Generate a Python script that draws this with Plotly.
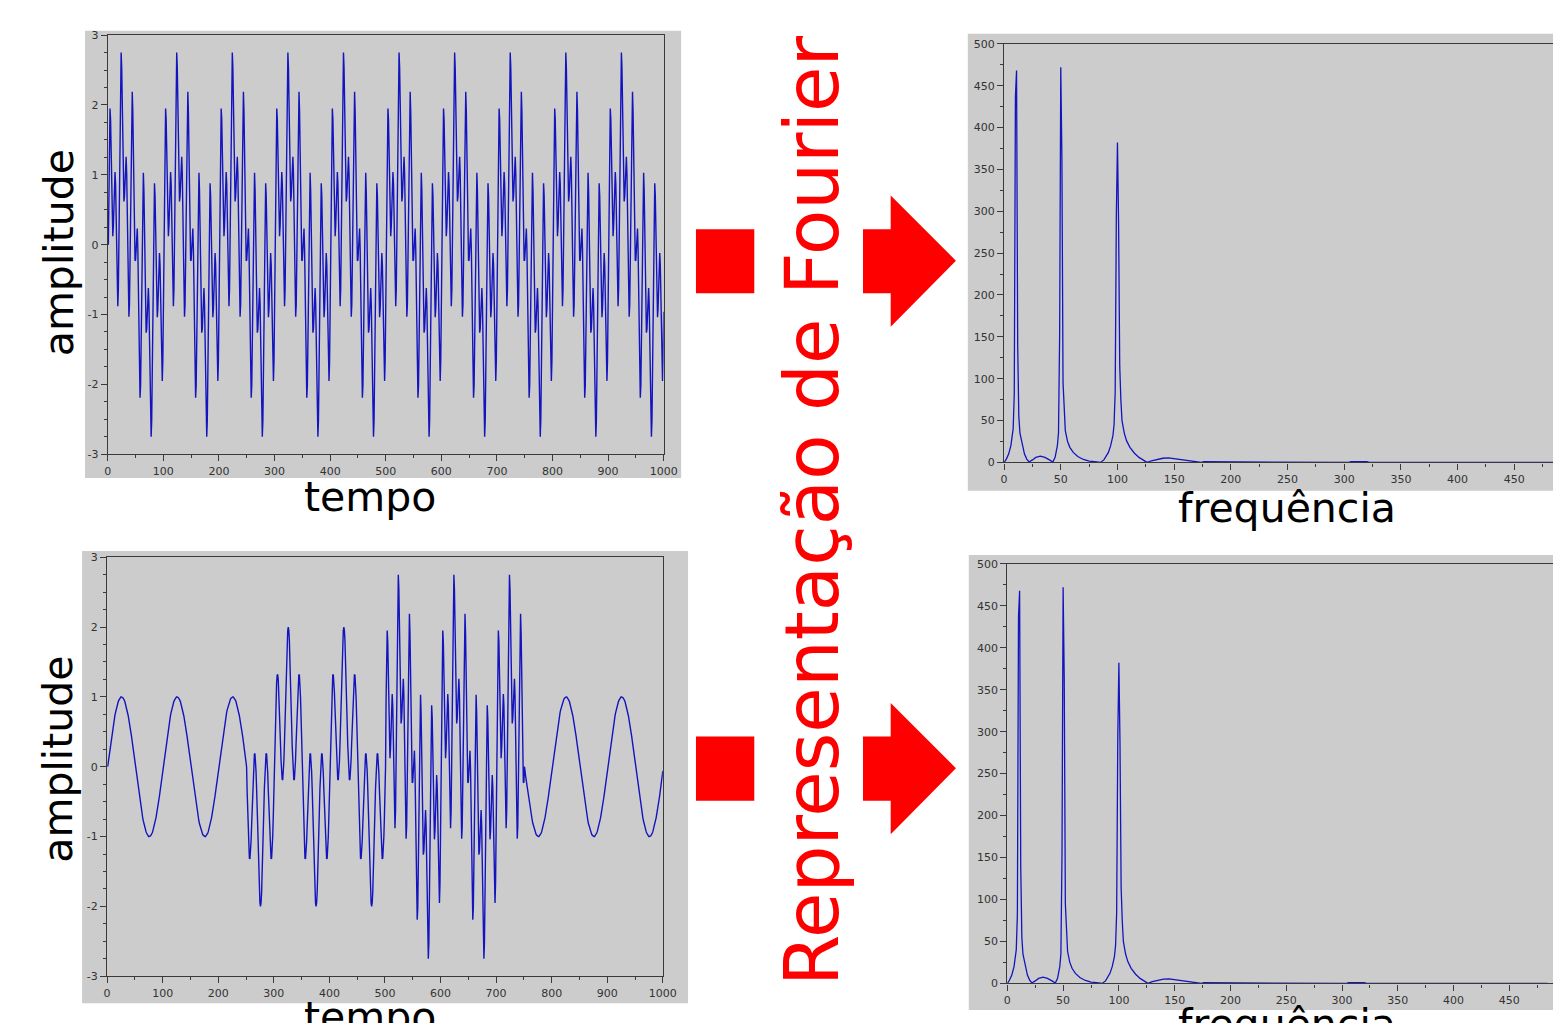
import plotly.graph_objects as go

W, H = 1567, 1023

# ---------------- data ----------------
# one period (100 samples) of the slow unit wave seen alone at 0-250 and 750-1000
slow_wave = [0, .06, .13, .19, .25, .31, .37, .43, .48, .54, .59, .64, .68, .73, .77, .81, .84, .88, .90, .93,
             .95, .97, .98, .99, 1.0, 1.0, 1.0, .99, .98, .97, .95, .93, .90, .88, .84, .81, .77, .73, .68, .64,
             .59, .54, .48, .43, .37, .31, .25, .19, .13, .06, 0, -.06, -.13, -.19, -.25, -.31, -.37, -.43, -.48, -.54,
             -.59, -.64, -.68, -.73, -.77, -.81, -.84, -.88, -.90, -.93, -.95, -.97, -.98, -.99, -1.0, -1.0, -1.0, -.99, -.98, -.97,
             -.95, -.93, -.90, -.88, -.84, -.81, -.77, -.73, -.68, -.64, -.59, -.54, -.48, -.43, -.37, -.31, -.25, -.19, -.13, -.06]
# one period (20 samples) of the medium ripple
ripple_50 = [0, .31, .59, .81, .95, 1.0, .95, .81, .59, .31, 0, -.31, -.59, -.81, -.95, -1.0, -.95, -.81, -.59, -.31]
# one period (10 samples) of the fast ripple
ripple_100 = [0, .59, .95, .95, .59, 0, -.59, -.95, -.95, -.59]

# bottom signal: segments and how many components are present in each
segment_edges = [0, 250, 500, 750, 1000]
segment_parts = [1, 2, 3, 1]

time_ticks = [0, 100, 200, 300, 400, 500, 600, 700, 800, 900, 1000]
amp_ticks = [-3, -2, -1, 0, 1, 2, 3]

# magnitude spectrum (same in both right panels)
spec_freq = [0, 2, 4, 6, 8, 9, 10, 11, 12, 13, 14, 16, 18, 20, 22, 25, 28, 32, 36, 40,
             43, 45, 46, 47, 48, 49, 50, 51, 52, 53, 54, 56, 58, 61, 65, 70, 75, 80, 85, 88,
             90, 92, 94, 96, 97, 98, 99, 100, 101, 102, 103, 104, 106, 108, 111, 115, 119, 123, 126, 130,
             135, 140, 145, 150, 155, 160, 165, 170, 174, 176, 204, 206, 218, 220, 244, 246, 258, 260, 284, 286,
             304, 306, 320, 322, 484]
spec_mag = [0, 4, 10, 20, 40, 82, 437, 468, 140, 55, 35, 20, 10, 4, 0.5, 3, 6, 7.5, 6, 3,
            0.5, 6, 12, 20, 35, 153, 472, 362, 95, 55, 38, 25, 18, 12, 7, 3.5, 1.5, 1, 0, 3,
            7, 12, 20, 32, 45, 84, 293, 382, 285, 115, 75, 50, 35, 26, 18, 11, 6, 2, 0, 2,
            3.5, 5, 5.5, 4.5, 3, 2, 1, 0.3, 0, 0.8, 0.8, 0, 0, 0.7, 0.7, 0, 0, 0.8, 0.8, 0,
            0, 1, 1, 0, 0]
freq_ticks = [0, 50, 100, 150, 200, 250, 300, 350, 400, 450]
mag_ticks = [0, 50, 100, 150, 200, 250, 300, 350, 400, 450, 500]

# ---------------- build series from the tables ----------------
n_samples = segment_edges[-1]
time = [n + 1 for n in range(n_samples)]
top_signal = [slow_wave[n % 100] + ripple_50[n % 20] + ripple_100[n % 10] for n in range(n_samples)]
bottom_signal = []
for n in range(n_samples):
    seg = max(i for i in range(len(segment_parts)) if segment_edges[i] <= n)
    parts = segment_parts[seg]
    v = slow_wave[n % 100]
    if parts >= 2:
        v += ripple_50[n % 20]
    if parts >= 3:
        v += ripple_100[n % 10]
    bottom_signal.append(v)


def px(x):
    return x / W


def py(y):
    return 1 - y / H


GRAY = "#cccccc"
AXC = "#3a3a3a"
BLUE = "rgb(20,20,190)"
tickfont = dict(family="DejaVu Sans", size=11, color="#333333")


def axis(domain, rng, ticks, minor_dtick, mirror=True):
    return dict(domain=domain, range=rng, tickmode="array", tickvals=ticks,
                ticktext=[str(t) for t in ticks], ticks="outside", ticklen=6, tickwidth=1,
                tickcolor=AXC, showline=True, linecolor=AXC, linewidth=1.2, mirror=mirror,
                showgrid=False, zeroline=False, tickfont=tickfont, fixedrange=True,
                minor=dict(dtick=minor_dtick, tick0=0, ticks="outside", ticklen=3,
                           tickcolor=AXC, showgrid=False))


fig = go.Figure()
fig.add_trace(go.Scatter(x=time, y=top_signal, mode="lines", line=dict(color=BLUE, width=1.4),
                         xaxis="x", yaxis="y", showlegend=False))
fig.add_trace(go.Scatter(x=time, y=bottom_signal, mode="lines", line=dict(color=BLUE, width=1.4),
                         xaxis="x2", yaxis="y2", showlegend=False))
fig.add_trace(go.Scatter(x=spec_freq, y=spec_mag, mode="lines", line=dict(color=BLUE, width=1.3),
                         xaxis="x3", yaxis="y3", showlegend=False))
fig.add_trace(go.Scatter(x=spec_freq, y=spec_mag, mode="lines", line=dict(color=BLUE, width=1.3),
                         xaxis="x4", yaxis="y4", showlegend=False))

tr_x0, tr_scale = 1011.7, 1.147
br_x0, br_scale = 1015.0, 1.1285

layout = dict(
    width=W, height=H, margin=dict(l=0, r=0, t=0, b=0),
    paper_bgcolor="white", plot_bgcolor=GRAY, showlegend=False,
    xaxis=axis([px(105), px(667.3)], [0, 1000], time_ticks, 50),
    yaxis=axis([py(454), py(29.5)], [-3, 3], amp_ticks, 0.25),
    xaxis2=axis([px(104.3), px(666.5)], [0, 1000], time_ticks, 50),
    yaxis2=axis([py(982.7), py(558.3)], [-3, 3], amp_ticks, 0.25),
    xaxis3=axis([px(tr_x0), 1], [0, (W - tr_x0) / tr_scale], freq_ticks, 25, mirror=True),
    yaxis3=axis([py(462.3), py(38.3)], [0, 500], mag_ticks, 25, mirror=False),
    xaxis4=axis([px(br_x0), 1], [0, (W - br_x0) / br_scale], freq_ticks, 25, mirror=True),
    yaxis4=axis([py(990), py(565)], [0, 500], mag_ticks, 25, mirror=False),
)
for k, a in [("xaxis", "y"), ("xaxis2", "y2"), ("xaxis3", "y3"), ("xaxis4", "y4")]:
    layout[k]["anchor"] = a
for k, a in [("yaxis", "x"), ("yaxis2", "x2"), ("yaxis3", "x3"), ("yaxis4", "x4")]:
    layout[k]["anchor"] = a
fig.update_layout(**layout)

# gray panels behind each plot
panels = [(82, 25, 685, 478), (79, 552, 692, 1010), (975, 28, W, 491), (976, 556, W, 1017)]
for x0, y0, x1, y1 in panels:
    fig.add_shape(type="rect", xref="paper", yref="paper", x0=px(x0), x1=px(x1), y0=py(y1), y1=py(y0),
                  fillcolor=GRAY, line=dict(width=0), layer="below")

RED = "#ff0000"
# red squares
for y0, y1 in [(226, 291), (740, 805)]:
    fig.add_shape(type="rect", xref="paper", yref="paper", x0=px(700), x1=px(759), y0=py(y1), y1=py(y0),
                  fillcolor=RED, line=dict(width=0))


# red arrows
def arrow_path(top):
    pts = [(869, top), (897, top), (897, top - 34), (963, top + 32), (897, top + 99), (897, top + 65), (869, top + 65)]
    return "M " + " L ".join(f"{px(x):.5f},{py(y):.5f}" for x, y in pts) + " Z"


for top in (226, 740):
    fig.add_shape(type="path", xref="paper", yref="paper", path=arrow_path(top),
                  fillcolor=RED, line=dict(width=0))

labfont = dict(family="DejaVu Sans", size=41, color="black")
anns = [
    ("amplitude", 55, 250, -90),
    ("amplitude", 55, 763, -90),
    ("tempo", 370, 497, 0),
    ("tempo", 370, 1024, 0),
    ("frequência", 1298, 508, 0),
    ("frequência", 1298, 1031, 0),
]
for text, x, y, ang in anns:
    fig.add_annotation(text=text, x=px(x), y=py(y), xref="paper", yref="paper", showarrow=False,
                       textangle=ang, font=labfont, xanchor="center", yanchor="middle")

fig.add_annotation(text="Representação de Fourier", x=px(817), y=py(511), xref="paper", yref="paper",
                   showarrow=False, textangle=-90, xanchor="center", yanchor="middle",
                   font=dict(family="DejaVu Sans", size=74, color=RED))

fig.write_html("out.html")
